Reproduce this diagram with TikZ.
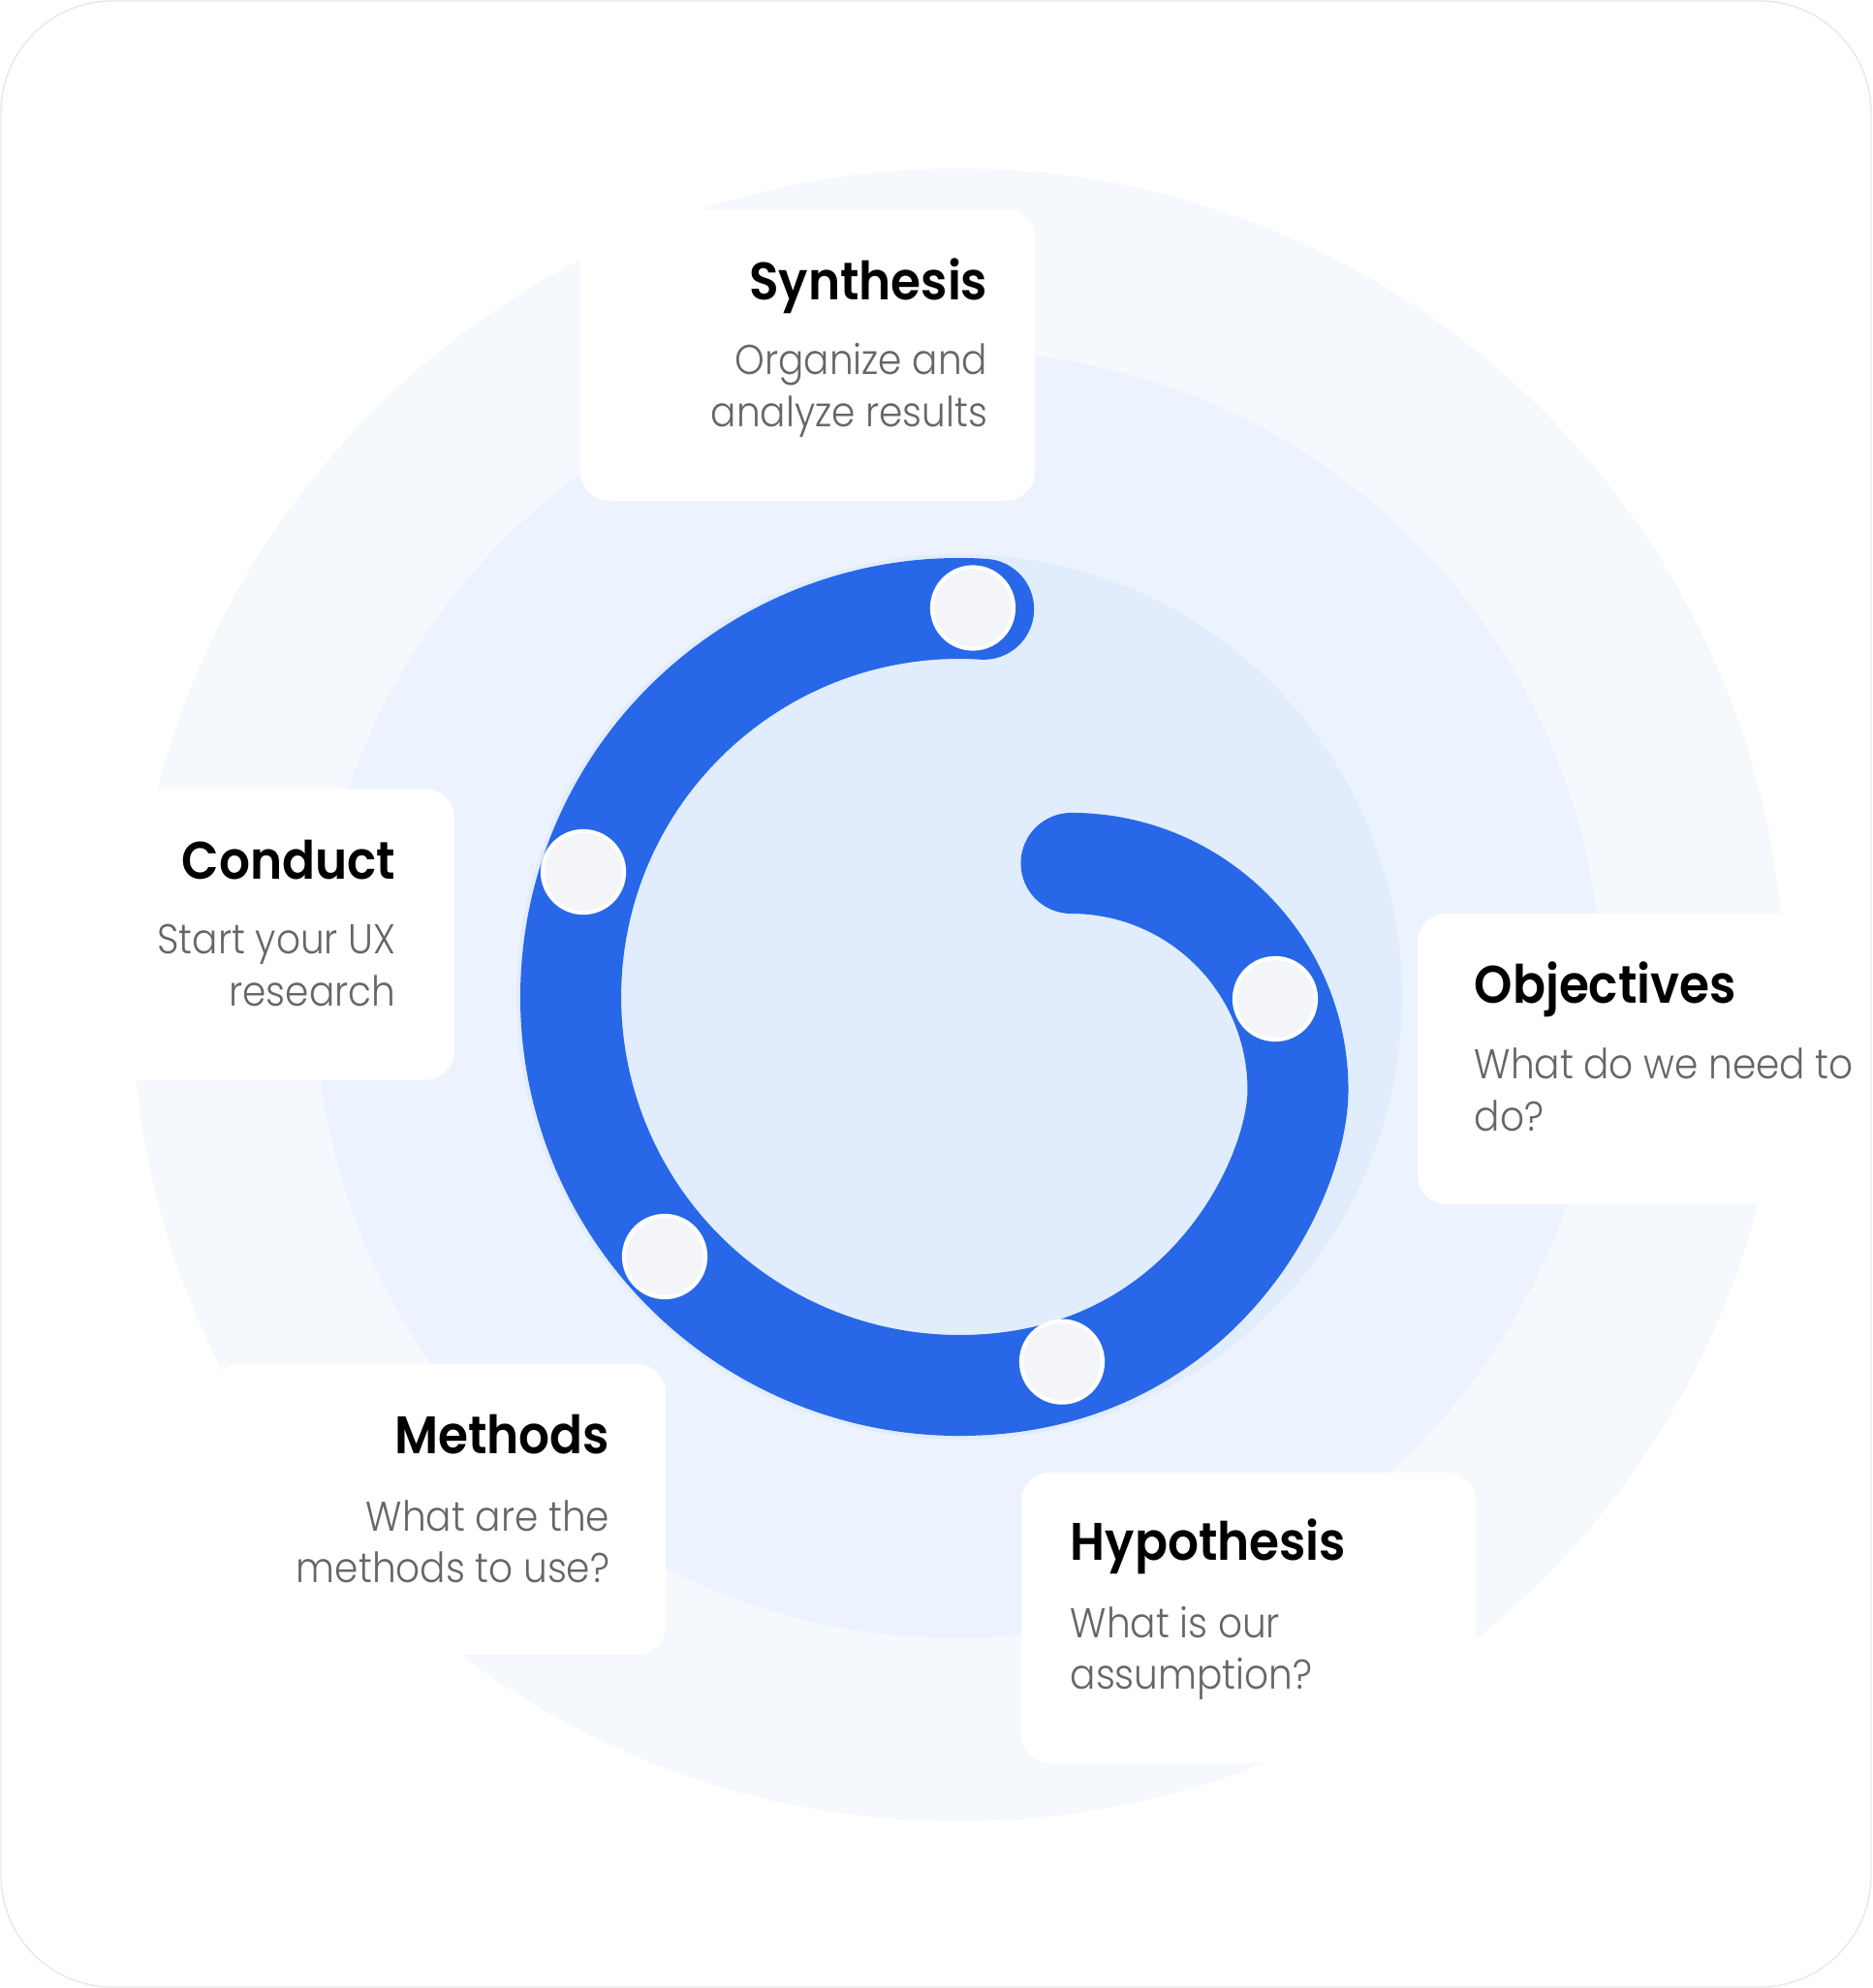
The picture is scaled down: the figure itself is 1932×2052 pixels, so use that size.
\documentclass[tikz,border=0pt]{standalone}
\usepackage{fontspec}
\setmainfont{Poppins}
\newfontfamily\titlefont{Poppins SemiBold}[FakeStretch=0.92]
\newfontfamily\subfont{Poppins Light}[FakeStretch=0.91]

\definecolor{ringout}{HTML}{F5F9FE}
\definecolor{ringmid}{HTML}{ECF3FE}
\definecolor{ringin}{HTML}{E1EDFD}
\definecolor{spiralblue}{HTML}{2767E8}
\definecolor{subgray}{HTML}{666666}
\definecolor{dotfill}{HTML}{F3F5F9}

\tikzset{
  card/.style={fill=white, rounded corners=0.3cm, minimum width=4.69cm,
    minimum height=3cm, inner sep=0pt},
  cardtitle/.style={font=\titlefont\fontsize{15.5}{18}\selectfont, inner sep=0pt},
  cardtext/.style={font=\subfont\fontsize{12.2}{15}\selectfont, text=subgray, inner sep=0pt},
  spiralline/.style={draw=spiralblue, line width=1.04cm, line cap=round},
  stagedot/.style={circle, fill=dotfill, draw=white, line width=1.2pt,
    minimum size=0.84cm, inner sep=0pt},
}

\begin{document}
\begin{tikzpicture}[x=0.01cm,y=-0.01cm]
\useasboundingbox (0,0) rectangle (1932,2052);
\fill[white] (1,1) rectangle (1931,2051);

% rings
\fill[ringout] (989,1027) circle[radius=853];
\fill[ringmid] (989,1027) circle[radius=664];
\fill[ringin] (990,1029) circle[radius=457];

% cards
\node (syncard) [card] at (833.5,366.7) {};
\node (concard) [card] at (234.5,964.5) {};
\node (objcard) [card] at (1697.5,1093) {};
\node (metcard) [card] at (452.5,1558) {};
\node (hypcard) [card] at (1288.5,1670) {};

% outline of the page
\draw[black!9, rounded corners=1.15cm] (1,1) rectangle (1931,2051);

% spiral
\draw[spiralline] (990,1029) ++(-86.4:401)
  arc[start angle=-86.4, end angle=-270, radius=401]
  .. controls +(249,0) and +(0,92) .. (1339.5,1125)
  arc[start angle=0, end angle=-90, radius=234];

% stages on the spiral
\node (dotsyn) [stagedot] at (1004,627.5) {};
\node (dotcon) [stagedot] at (602,900) {};
\node (dotmet) [stagedot] at (686,1297) {};
\node (dothyp) [stagedot] at (1096,1405.6) {};
\node (dotobj) [stagedot] at (1316,1031) {};

% texts
\node (syntitle) [cardtitle, anchor=base east] at (1020,310) {Synthesis};
\node (synline1) [cardtext, anchor=base east] at (1020,386.7) {Organize and};
\node (synline2) [cardtext, anchor=base east] at (1020,440) {analyze results};

\node (contitle) [cardtitle, anchor=base east] at (409,907.7) {Conduct};
\node (conline1) [cardtext, anchor=base east] at (409,984) {Start your UX};
\node (conline2) [cardtext, anchor=base east] at (409,1038) {research};

\node (objtitle) [cardtitle, anchor=base west] at (1521,1035) {Objectives};
\node (objline1) [cardtext, anchor=base west] at (1521,1113) {What do we need to};
\node (objline2) [cardtext, anchor=base west] at (1521,1167) {do?};

\node (mettitle) [cardtitle, anchor=base east] at (630,1500) {Methods};
\node (metline1) [cardtext, anchor=base east] at (630,1580) {What are the};
\node (metline2) [cardtext, anchor=base east] at (630,1633) {methods to use?};

\node (hyptitle) [cardtitle, anchor=base west] at (1104,1610.7) {Hypothesis};
\node (hypline1) [cardtext, anchor=base west] at (1104,1690) {What is our};
\node (hypline2) [cardtext, anchor=base west] at (1104,1743) {assumption?};

\end{tikzpicture}
\end{document}
